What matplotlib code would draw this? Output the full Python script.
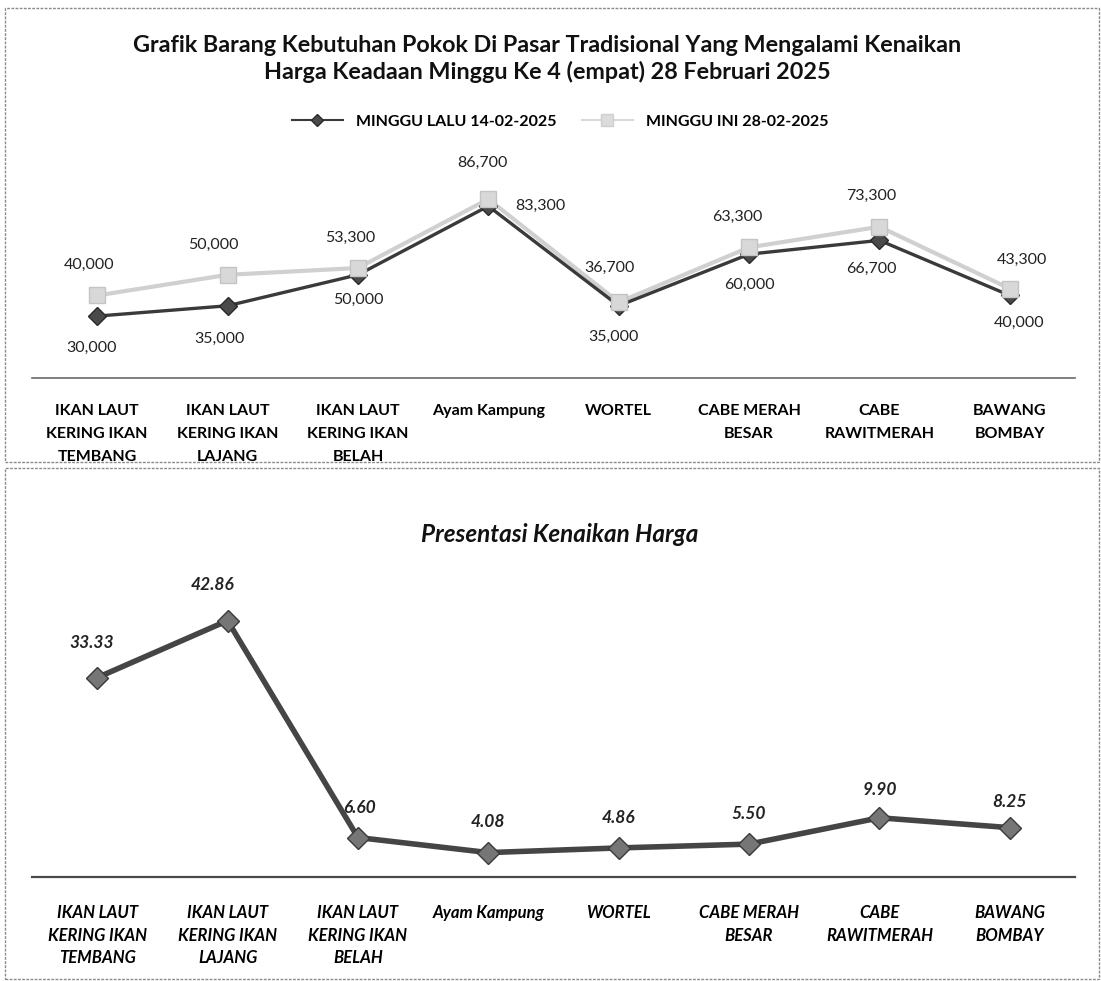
import matplotlib
matplotlib.use("Agg")
import matplotlib.pyplot as plt
from matplotlib.patches import Rectangle

plt.rcParams['font.family'] = ['Lato', 'DejaVu Sans']

# data
categories = ['IKAN LAUT\nKERING IKAN\nTEMBANG', 'IKAN LAUT\nKERING IKAN\nLAJANG',
              'IKAN LAUT\nKERING IKAN\nBELAH', 'Ayam Kampung', 'WORTEL',
              'CABE MERAH\nBESAR', 'CABE\nRAWITMERAH', 'BAWANG\nBOMBAY']
minggu_lalu = [30000, 35000, 50000, 83300, 35000, 60000, 66700, 40000]
minggu_ini = [40000, 50000, 53300, 86700, 36700, 63300, 73300, 43300]
persen_naik = [33.33, 42.86, 6.60, 4.08, 4.86, 5.50, 9.90, 8.25]

label_lalu = 'MINGGU LALU 14-02-2025'
label_ini = 'MINGGU INI 28-02-2025'

# label offsets in pixels
off_ini = [(-8, 31), (-14, 30), (-8, 30), (-6, 36), (-9, 34), (-12, 30), (-8, 31), (12, 29)]
off_lalu = [(-6, -32), (-8, -33), (0, -25), (52, 0), (-5, -31), (0, -31), (-8, -29), (9, -27)]
off_pct = [(-6, 35), (-15, 36), (2, 30), (0, 31), (0, 30), (0, 30), (0, 28), (0, 26)]

W, H = 1101, 981
fig = plt.figure(figsize=(W / 100, H / 100), dpi=100)
fig.patch.set_facecolor('white')

# panel borders
for (x0, y0, x1, y1) in [(5, 8, 1099, 462), (5, 468, 1099, 979)]:
    fig.add_artist(Rectangle((x0 / W, 1 - y1 / H), (x1 - x0) / W, (y1 - y0) / H,
                             transform=fig.transFigure, fill=False,
                             edgecolor='#8a8a8a', lw=1.0, ls=(0, (2, 1))))

x = list(range(len(categories)))

# ---- top chart ----
ax1 = fig.add_axes([32 / W, 1 - 378 / H, 1043 / W, (378 - 151) / H])
ax1.plot(x, minggu_ini, color='#d0d0d0', lw=3, zorder=2)
ax1.plot(x, minggu_lalu, color='#3a3a3a', lw=2.4, marker='D', ms=9,
         mfc='#4a4a4a', mec='#2a2a2a', zorder=3)
ax1.plot(x, minggu_ini, ls='none', marker='s', ms=12, mfc='#d8d8d8',
         mec='#c4c4c4', zorder=4)
for i in x:
    ax1.annotate(f'{minggu_ini[i]:,}', (i, minggu_ini[i]), xytext=off_ini[i],
                 textcoords='offset pixels', ha='center', va='center',
                 fontsize=11.5, color='#222222')
    ax1.annotate(f'{minggu_lalu[i]:,}', (i, minggu_lalu[i]), xytext=off_lalu[i],
                 textcoords='offset pixels', ha='center', va='center',
                 fontsize=11.5, color='#222222')
ax1.set_xlim(-0.5, 7.5)
ax1.set_ylim(0, 110000)
ax1.set_yticks([])
ax1.set_xticks(x)
ax1.set_xticklabels(categories, fontsize=11.5, fontweight='bold', linespacing=1.8)
ax1.tick_params(axis='x', length=0, pad=19)
for s in ['top', 'left', 'right']:
    ax1.spines[s].set_visible(False)
ax1.spines['bottom'].set_color('#6a6a6a')
ax1.spines['bottom'].set_linewidth(1.2)
ax1.set_facecolor('none')

fig.text(547 / W, 1 - 59 / H,
         'Grafik Barang Kebutuhan Pokok Di Pasar Tradisional Yang Mengalami Kenaikan\n'
         'Harga Keadaan Minggu Ke 4 (empat) 28 Februari 2025',
         ha='center', va='center', fontsize=16.8, fontweight='bold',
         linespacing=1.25, color='#111111')

h_lalu, = ax1.plot([], [], color='#3a3a3a', lw=1.5, marker='D', ms=6,
                   mfc='#4a4a4a', mec='#2a2a2a')
h_ini, = ax1.plot([], [], color='#d8d8d8', lw=1.5, marker='s', ms=8,
                  mfc='#dcdcdc', mec='#cfcfcf')
fig.legend([h_lalu, h_ini], [label_lalu, label_ini], loc='center',
           bbox_to_anchor=(560 / W, 1 - 122 / H), ncol=2, frameon=False,
           prop={'size': 11.5, 'weight': 'bold'}, columnspacing=1.6,
           handlelength=3.2)

# ---- bottom chart ----
ax2 = fig.add_axes([32 / W, 1 - 877 / H, 1043 / W, (877 - 560) / H])
ax2.plot(x, persen_naik, color='#454545', lw=4, marker='D', ms=11,
         mfc='#767676', mec='#3a3a3a', zorder=3)
for i in x:
    ax2.annotate(f'{persen_naik[i]:.2f}', (i, persen_naik[i]), xytext=off_pct[i],
                 textcoords='offset pixels', ha='center', va='center',
                 fontsize=12.5, fontweight='bold', fontstyle='italic',
                 color='#222222')
ax2.set_xlim(-0.5, 7.5)
ax2.set_ylim(0, 53)
ax2.set_yticks([])
ax2.set_xticks(x)
ax2.set_xticklabels(categories, fontsize=12, fontweight='bold',
                    fontstyle='italic', linespacing=1.52)
ax2.tick_params(axis='x', length=0, pad=20)
for s in ['top', 'left', 'right']:
    ax2.spines[s].set_visible(False)
ax2.spines['bottom'].set_color('#4a4a4a')
ax2.spines['bottom'].set_linewidth(1.6)
ax2.set_facecolor('none')

fig.text(560 / W, 1 - 534 / H, 'Presentasi Kenaikan Harga', ha='center',
         va='center', fontsize=17.5, fontweight='bold', fontstyle='italic',
         color='#111111')

fig.savefig('out.png', dpi=100)
